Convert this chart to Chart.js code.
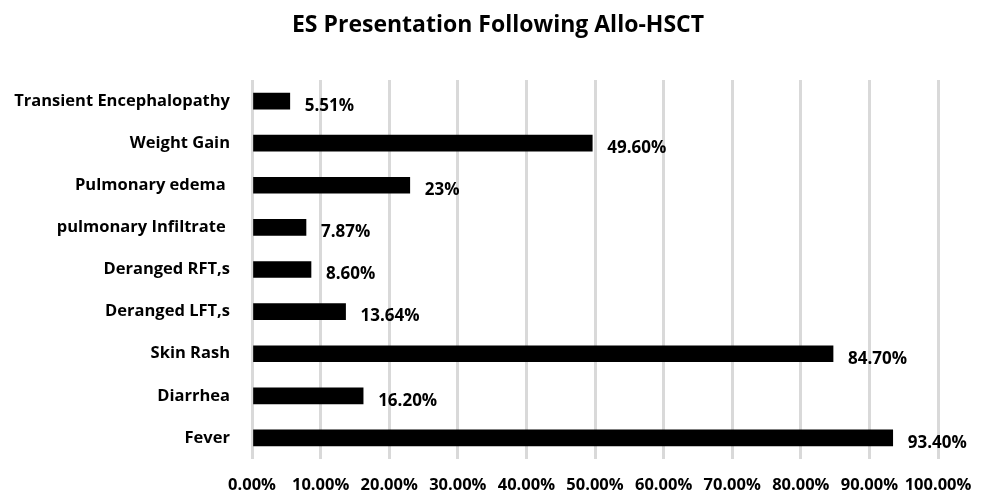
<!DOCTYPE html>
<html>
<head>
<meta charset="utf-8">
<script src="https://cdn.jsdelivr.net/npm/chart.js@4/dist/chart.umd.min.js"></script>
<style>
html,body{margin:0;padding:0;background:#fff;}
#wrap{width:988px;height:493px;position:relative;}
</style>
</head>
<body>
<div id="wrap"><canvas id="c"></canvas></div>
<script>
const categories = ["Transient Encephalopathy","Weight Gain","Pulmonary edema ","pulmonary Infiltrate ","Deranged RFT,s","Deranged LFT,s","Skin Rash","Diarrhea","Fever"];
const values = [5.51, 49.60, 23, 7.87, 8.60, 13.64, 84.70, 16.20, 93.40];
const valueLabels = ["5.51%","49.60%","23%","7.87%","8.60%","13.64%","84.70%","16.20%","93.40%"];
const xTickMin = 0, xTickMax = 100, xTickStep = 10;
const chartTitle = 'ES Presentation Following Allo-HSCT';

const FONT = "'Open Sans', sans-serif";

const dataLabelPlugin = {
  id: 'dataLabels',
  afterDatasetsDraw(chart) {
    const ctx = chart.ctx;
    const meta = chart.getDatasetMeta(0);
    ctx.save();
    ctx.font = "bold 17px " + FONT;
    ctx.fillStyle = '#000';
    ctx.textAlign = 'left';
    ctx.textBaseline = 'middle';
    meta.data.forEach((el, i) => {
      ctx.fillText(valueLabels[i], el.x + 15, el.y + 5);
    });
    ctx.restore();
  }
};

const centeredTitlePlugin = {
  id: 'centeredTitle',
  afterDraw(chart) {
    const ctx = chart.ctx;
    ctx.save();
    ctx.font = "bold 23px " + FONT;
    ctx.fillStyle = '#000';
    ctx.textAlign = 'center';
    ctx.textBaseline = 'middle';
    ctx.fillText(chartTitle, chart.width / 2 + 4, 25);
    ctx.restore();
  }
};

new Chart(document.getElementById('c'), {
  type: 'bar',
  data: {
    labels: categories,
    datasets: [{
      data: values,
      backgroundColor: '#000',
      borderWidth: 0,
      barThickness: 16
    }]
  },
  options: {
    indexAxis: 'y',
    responsive: true,
    maintainAspectRatio: false,
    animation: false,
    layout: { padding: { left: 0, right: 50, top: 80, bottom: 0 } },
    plugins: {
      legend: { display: false },
      tooltip: { enabled: false },
      title: { display: false }
    },
    scales: {
      x: {
        min: xTickMin,
        max: xTickMax,
        afterFit(s) { s.height = 34; },
        ticks: {
          stepSize: xTickStep,
          color: '#000',
          font: { family: FONT, size: 16.5, weight: 'bold' },
          padding: 16,
          maxRotation: 0,
          autoSkip: false,
          callback: v => v.toFixed(2) + '%'
        },
        grid: { color: '#d9d9d9', lineWidth: 3, drawTicks: false },
        border: { display: false }
      },
      y: {
        afterFit(s) { s.width = 252; },
        ticks: {
          color: '#000',
          font: { family: FONT, size: 16.5, weight: 'bold' },
          padding: 22
        },
        grid: { display: false, drawTicks: false },
        border: { display: false }
      }
    }
  },
  plugins: [dataLabelPlugin, centeredTitlePlugin]
});
</script>
</body>
</html>
